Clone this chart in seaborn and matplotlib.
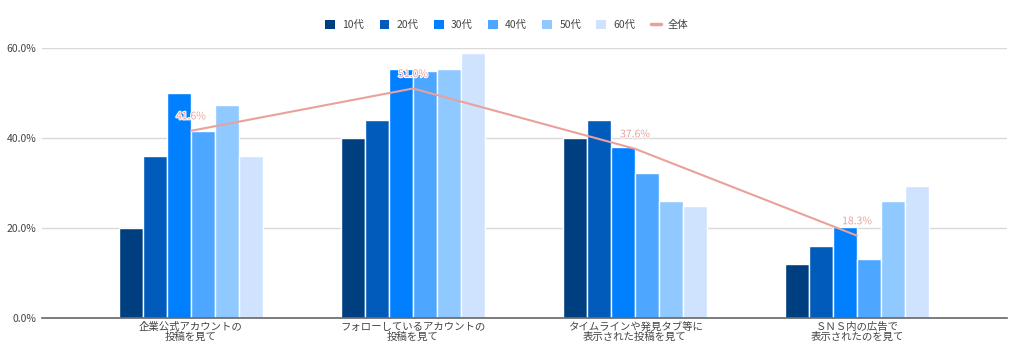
import numpy as np
import pandas as pd
import matplotlib
matplotlib.use("Agg")
import matplotlib.pyplot as plt
import matplotlib.patheffects as pe
from matplotlib.lines import Line2D
from matplotlib.patches import Patch
import seaborn as sns

categories = ["企業公式アカウントの\n投稿を見て",
              "フォローしているアカウントの\n投稿を見て",
              "タイムラインや発見タブ等に\n表示された投稿を見て",
              "ＳＮＳ内の広告で\n表示されたのを見て"]
age_groups = ["10代", "20代", "30代", "40代", "50代", "60代"]
v10 = [20.0, 39.9, 39.9, 11.9]
v20 = [36.1, 44.0, 44.0, 16.1]
v30 = [50.0, 55.3, 38.1, 20.2]
v40 = [41.6, 54.9, 32.3, 13.2]
v50 = [47.3, 55.4, 26.0, 26.0]
v60 = [36.1, 58.8, 24.8, 29.3]
overall = [41.6, 51.0, 37.6, 18.3]
overall_label = "全体"
yticks = [0, 20, 40, 60]

colors = ["#003f7f", "#005bbb", "#0080ff", "#4da6ff", "#8fc9ff", "#cfe3ff"]
line_color = "#e9a19c"

sns.set_theme(style="white")
plt.rcParams["font.family"] = ["Noto Sans CJK JP", "DejaVu Sans"]

rows = []
for ag, vals in zip(age_groups, [v10, v20, v30, v40, v50, v60]):
    for c, v in zip(categories, vals):
        rows.append({"category": c, "age": ag, "value": v})
df = pd.DataFrame(rows)

fig = plt.figure(figsize=(10.24, 3.61), dpi=100)
ax = fig.add_axes([42/1024, (361-318)/361, (1007-42)/1024, (318-48)/361])

sns.barplot(data=df, x="category", y="value", hue="age", order=categories,
            hue_order=age_groups, palette=colors, width=0.65, saturation=1,
            edgecolor="white", linewidth=1.0, ax=ax, legend=False)

xpos = np.arange(len(categories))
sns.lineplot(x=xpos, y=overall, color=line_color, linewidth=1.5, ax=ax,
             legend=False)
for x, v in zip(xpos, overall):
    ax.text(x, v + 3.2, f"{v:.1f}%", ha="center", va="center", fontsize=7.5,
            color=line_color,
            path_effects=[pe.withStroke(linewidth=1.5, foreground="white")])

ax.set_xlim((42-191)/222, (1007-191)/222)
ax.set_ylim(0, 60)
ax.set_yticks(yticks)
ax.set_yticklabels([f"{t:.1f}%" for t in yticks], fontsize=7.5, color="#444444")
ax.tick_params(axis="x", labelsize=7.5, colors="#444444", length=0, pad=3)
ax.tick_params(axis="y", length=0, pad=4)
for lbl in ax.get_xticklabels():
    lbl.set_linespacing(0.95)
ax.set_xlabel("")
ax.set_ylabel("")
ax.grid(axis="y", color="#d9d9d9", linewidth=1)
ax.set_axisbelow(True)
for s in ["top", "right", "left"]:
    ax.spines[s].set_visible(False)
ax.spines["bottom"].set_color("#666666")
ax.spines["bottom"].set_linewidth(1.2)

handles = [Patch(facecolor=c, edgecolor="none") for c in colors]
handles.append(Line2D([0], [0], color=line_color, linewidth=2.5))
labels = age_groups + [overall_label]
fig.legend(handles, labels, loc="center", bbox_to_anchor=(507/1024, 1 - 25/361),
           ncol=7, frameon=False, fontsize=7.5, handlelength=0.95, handleheight=0.95,
           columnspacing=1.45, handletextpad=0.7, labelcolor="#444444")

fig.savefig("out.png", dpi=100)
